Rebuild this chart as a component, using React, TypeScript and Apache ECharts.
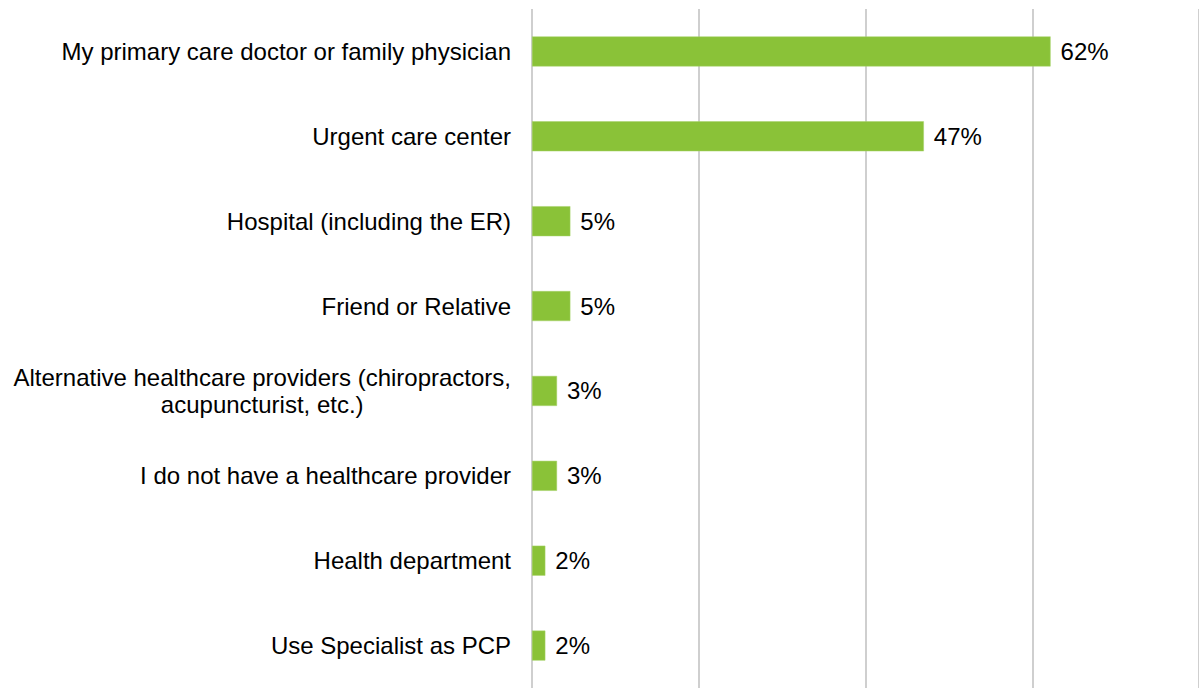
import React, { useEffect, useRef } from "react";
import * as echarts from "echarts";

const categories = [
  "My primary care doctor or family physician",
  "Urgent care center",
  "Hospital (including the ER)",
  "Friend or Relative",
  "Alternative healthcare providers (chiropractors,\nacupuncturist, etc.)",
  "I do not have a healthcare provider",
  "Health department",
  "Use Specialist as PCP",
];
const values = [62.2, 47, 4.6, 4.6, 3, 3, 1.6, 1.6];
const xTicks = [0, 20, 40, 60, 80];

const FONT = "Liberation Sans, Arial, sans-serif";

export default function App() {
  const ref = useRef<HTMLDivElement>(null);
  useEffect(() => {
    document.body.style.margin = "0";
    const chart = echarts.init(ref.current!, undefined, { renderer: "svg" });
    chart.setOption({
      animation: false,
      grid: { left: 532, top: 9, width: 668, height: 682, containLabel: false },
      xAxis: {
        type: "value",
        min: xTicks[0],
        max: xTicks[xTicks.length - 1],
        interval: 20,
        axisLabel: { show: false },
        axisLine: { show: false },
        axisTick: { show: false },
        splitLine: { show: true, lineStyle: { color: "#BFBFBF", width: 1.5 } },
      },
      yAxis: {
        type: "category",
        data: categories,
        inverse: true,
        axisLine: { show: false },
        axisTick: { show: false },
        splitLine: { show: false },
        axisLabel: {
          margin: 21,
          fontSize: 24,
          fontFamily: FONT,
          color: "#000",
          lineHeight: 27,
          formatter: (v: string) =>
            v.includes("\n") ? v.split("\n").map((l) => `{c|${l}}`).join("\n") : v,
          rich: {
            c: {
              align: "center",
              fontSize: 24,
              lineHeight: 27,
              fontFamily: FONT,
              color: "#000",
            },
          },
        },
      },
      series: [
        {
          type: "bar",
          data: values,
          barWidth: 30,
          itemStyle: { color: "#8AC238", borderColor: "#A6D26A", borderWidth: 0.5 },
          label: {
            show: true,
            position: "right",
            distance: 10,
            fontSize: 24,
            fontFamily: FONT,
            color: "#000",
            formatter: (p: any) => `${Math.round(p.value)}%`,
          },
        },
      ],
    });
    return () => chart.dispose();
  }, []);
  return <div ref={ref} style={{ width: 1199, height: 688 }} />;
}
